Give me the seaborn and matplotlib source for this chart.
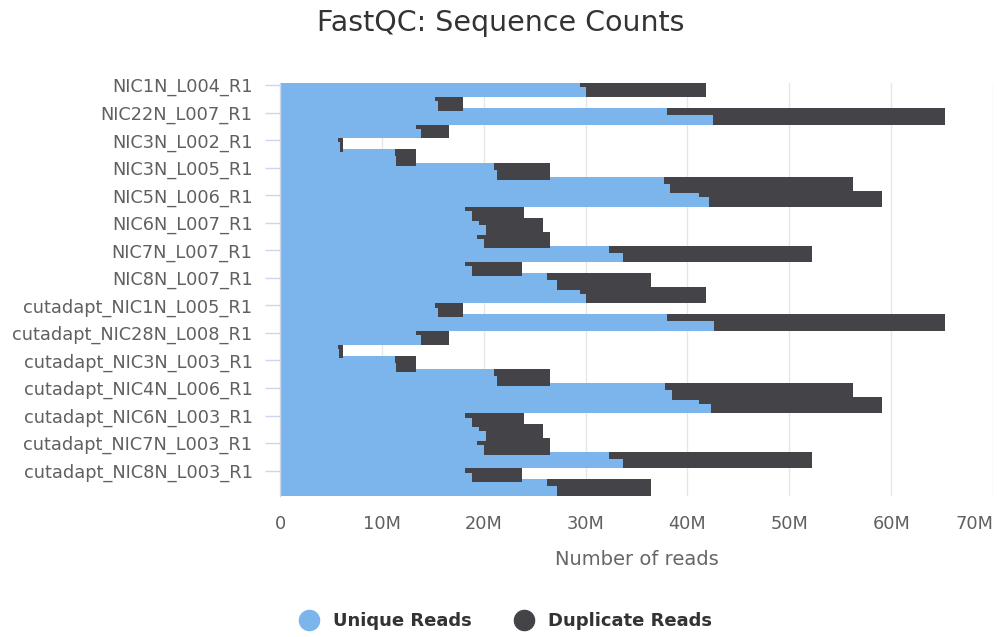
import matplotlib
matplotlib.use("Agg")
import matplotlib.pyplot as plt
from matplotlib.lines import Line2D
import pandas as pd
import seaborn as sns

# Samples (each sequenced paired-end: R1 and R2 share the same total read count)
samples = ["NIC1N_L004", "NIC1N_L005", "NIC22N_L007", "NIC28N_L008", "NIC3N_L002",
           "NIC3N_L003", "NIC3N_L005", "NIC4N_L006", "NIC5N_L006", "NIC6N_L003",
           "NIC6N_L007", "NIC7N_L003", "NIC7N_L007", "NIC8N_L003", "NIC8N_L007"]

# Raw reads, millions
total_reads = [41.8, 17.97, 65.27, 16.62, 6.17, 13.33, 26.49, 56.26, 59.1,
               23.96, 25.81, 26.49, 52.25, 23.78, 36.44]
unique_r1 = [29.46, 15.2, 37.97, 13.33, 5.68, 11.3, 20.99, 37.66, 41.13,
             18.15, 19.5, 19.37, 32.3, 18.15, 26.17]
unique_r2 = [30.0, 15.5, 42.5, 13.87, 5.9, 11.4, 21.3, 38.29, 42.07,
             18.83, 20.18, 20.0, 33.65, 18.83, 27.16]

# Adapter-trimmed reads, millions
cut_total_reads = [41.8, 17.97, 65.27, 16.62, 6.17, 13.33, 26.49, 56.26, 59.1,
                   23.96, 25.81, 26.49, 52.25, 23.78, 36.44]
cut_unique_r1 = [29.46, 15.2, 37.97, 13.33, 5.68, 11.3, 20.99, 37.8, 41.13,
                 18.15, 19.5, 19.37, 32.3, 18.15, 26.17]
cut_unique_r2 = [30.0, 15.5, 42.6, 13.87, 5.83, 11.4, 21.3, 38.5, 42.3,
                 18.83, 20.18, 20.0, 33.65, 18.83, 27.16]

# Value axis ticks (millions of reads)
x_ticks_m = [0, 10, 20, 30, 40, 50, 60, 70]

BLUE = "#7cb5ec"
DARK = "#434348"

rows = []
for prefix, tot, u1, u2 in [("", total_reads, unique_r1, unique_r2),
                            ("cutadapt_", cut_total_reads, cut_unique_r1, cut_unique_r2)]:
    for s, t, a, b in zip(samples, tot, u1, u2):
        rows.append(dict(category=f"{prefix}{s}_R1", read="R1", total=t * 1e6, unique=a * 1e6))
        rows.append(dict(category=f"{prefix}{s}_R2", read="R2", total=t * 1e6, unique=b * 1e6))
df = pd.DataFrame(rows)
categories = list(df["category"])

sns.set_theme(style="white")
plt.rcParams["font.family"] = ["DejaVu Sans"]

fig = plt.figure(figsize=(9.97, 6.37), dpi=100)
ax = fig.add_axes([280 / 997, 1 - 496 / 637, (993 - 280) / 997, (496 - 83.3) / 637])

# Stacked bars: duplicate part drawn as the full total, unique part on top of it.
for read in ["R1", "R2"]:
    sub = df[df["read"] == read]
    sns.barplot(data=sub, x="total", y="category", order=categories, orient="h",
                color=DARK, saturation=1, width=1.4, errorbar=None, linewidth=0, ax=ax)
    sns.barplot(data=sub, x="unique", y="category", order=categories, orient="h",
                color=BLUE, saturation=1, width=1.4, errorbar=None, linewidth=0, ax=ax)

ax.set_xlim(0, x_ticks_m[-1] * 1e6)
ax.set_ylim(len(categories) - 0.3, -0.3)
ax.set_xticks([m * 1e6 for m in x_ticks_m],
              ["0" if m == 0 else f"{m}M" for m in x_ticks_m])
ax.set_yticks(range(0, len(categories), 4))
ax.set_yticklabels(categories[::4])

ax.set_axisbelow(True)
ax.xaxis.grid(True, color="#e6e6e6", linewidth=1)
ax.yaxis.grid(False)
for side in ["top", "right", "bottom"]:
    ax.spines[side].set_visible(False)
ax.spines["left"].set_color("#ccd6eb")
ax.spines["left"].set_linewidth(1)

ax.tick_params(axis="y", length=10.8, width=1, color="#ccd6eb", pad=9,
               labelsize=12.8, labelcolor="#606060", left=True)
ax.tick_params(axis="x", length=0, pad=14, labelsize=12.8, labelcolor="#606060")

# keep the last value label inside the figure
ax.xaxis.get_major_ticks()[-1].label1.set_horizontalalignment("right")

ax.set_xlabel("Number of reads", fontsize=14, color="#666666")
ax.set_ylabel("")
ax.xaxis.set_label_coords(0.5, -0.155)
ax.xaxis.label.set_va("center")

fig.text(0.5025, 1 - 23 / 637, "FastQC: Sequence Counts", ha="center", va="center",
         fontsize=20.5, color="#333333")

handles = [Line2D([], [], marker="o", linestyle="", markersize=14.5,
                  markerfacecolor=c, markeredgecolor=c) for c in (BLUE, DARK)]
fig.legend(handles, ["Unique Reads", "Duplicate Reads"], loc="center",
           bbox_to_anchor=(0.503, 1 - 621 / 637), ncol=2, frameon=False,
           prop={"weight": "bold", "size": 13}, labelcolor="#333333",
           handletextpad=0.35, columnspacing=1.9)

fig.savefig("out.png", dpi=100)
